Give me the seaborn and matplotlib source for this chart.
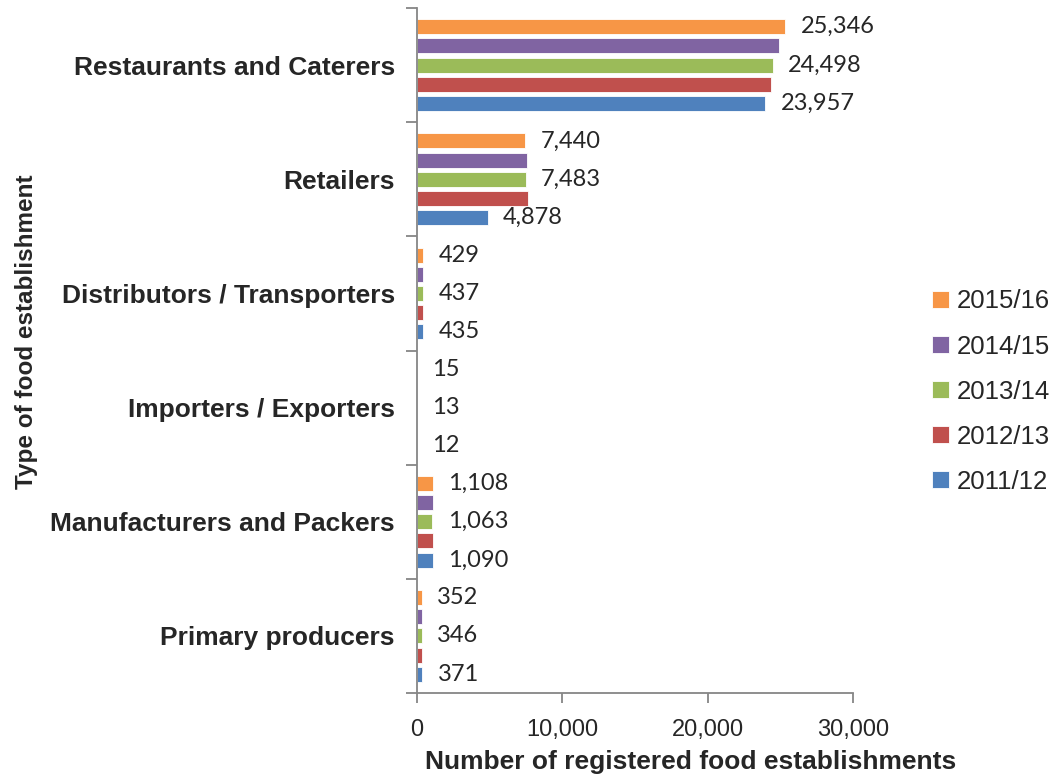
import matplotlib
matplotlib.use("Agg")
import matplotlib.pyplot as plt
import seaborn as sns
import pandas as pd
from matplotlib.ticker import FuncFormatter, FixedLocator

categories = [
    "Restaurants and Caterers",
    "Retailers",
    "Distributors / Transporters",
    "Importers / Exporters",
    "Manufacturers and Packers",
    "Primary producers",
]
years = ["2015/16", "2014/15", "2013/14", "2012/13", "2011/12"]
v_2015_16 = [25346, 7440, 429, 15, 1108, 352]
v_2014_15 = [24900, 7600, 432, 14, 1085, 340]
v_2013_14 = [24498, 7483, 437, 13, 1063, 346]
v_2012_13 = [24330, 7650, 445, 12, 1080, 360]
v_2011_12 = [23957, 4878, 435, 12, 1090, 371]
labelled_years = ["2015/16", "2013/14", "2011/12"]
colors = ["#F79646", "#8064A2", "#9BBB59", "#C0504D", "#4F81BD"]

series = dict(zip(years, [v_2015_16, v_2014_15, v_2013_14, v_2012_13, v_2011_12]))
df = pd.DataFrame(
    [(cat, yr, vals[i]) for yr, vals in series.items() for i, cat in enumerate(categories)],
    columns=["category", "year", "value"],
)

sns.set_theme(style="white")
plt.rcParams["font.family"] = ["Liberation Sans", "DejaVu Sans"]

fig = plt.figure(figsize=(10.63, 7.82), dpi=100)
ax = fig.add_axes([417 / 1063, 1 - 693 / 782, 436 / 1063, 685 / 782])

sns.barplot(
    data=df, y="category", x="value", hue="year", order=categories,
    hue_order=years, palette=colors, saturation=1, orient="h", width=0.84,
    gap=0.22, edgecolor="white", linewidth=0.6, ax=ax, legend=True,
)

label_font = dict(family=["Lato", "DejaVu Sans"], size=17)
for container, yr in zip(ax.containers, years):
    if yr in labelled_years:
        ax.bar_label(container, labels=[f"{v:,.0f}" for v in series[yr]],
                     padding=11, **label_font)

ax.set_xlim(0, 30000)
ax.set_ylim(len(categories) - 0.5, -0.5)
ax.xaxis.set_major_locator(FixedLocator([0, 10000, 20000, 30000]))
ax.xaxis.set_major_formatter(FuncFormatter(lambda v, p: f"{v:,.0f}"))

# Category separators as minor ticks on the y axis
ax.yaxis.set_minor_locator(FixedLocator([i - 0.5 for i in range(len(categories) + 1)]))
ax.tick_params(axis="y", which="major", length=0, pad=16, labelsize=19)
ax.tick_params(axis="y", which="minor", length=8, width=1.3, color="#868686", left=True)
ax.tick_params(axis="x", which="major", length=7, width=1.3, color="#868686",
               bottom=True, labelsize=17, pad=12)
for lbl in ax.get_yticklabels():
    lbl.set_fontweight("bold")

for side in ["top", "right"]:
    ax.spines[side].set_visible(False)
for side in ["left", "bottom"]:
    ax.spines[side].set_color("#868686")
    ax.spines[side].set_linewidth(1.3)

ax.set_xlabel("Number of registered food establishments", fontsize=19, fontweight="bold")
ax.set_ylabel("Type of food establishment", fontsize=17.5, fontweight="bold")
ax.xaxis.set_label_coords(0.628, -0.083)
ax.yaxis.set_label_coords(-0.87, 0.527)

leg = ax.legend(
    loc="center left", bbox_to_anchor=(1.158, 0.44), frameon=False,
    fontsize=18.5, handlelength=0.65, handleheight=0.65, handletextpad=0.3,
    labelspacing=0.82, borderaxespad=0,
)

fig.savefig("out.png", dpi=100)
